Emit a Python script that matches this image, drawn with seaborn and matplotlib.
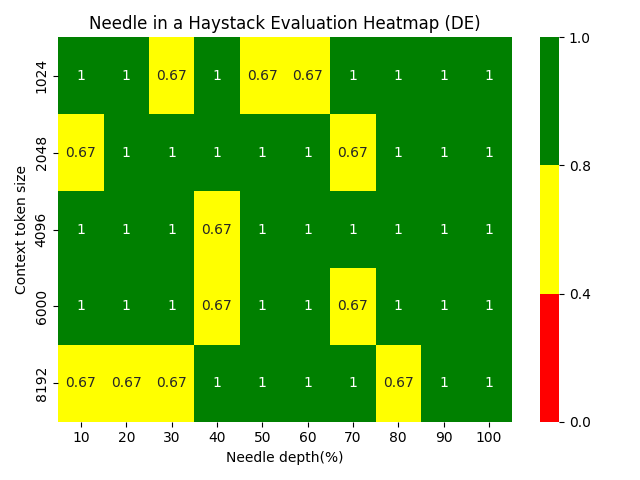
import numpy as np
import pandas as pd
import matplotlib
matplotlib.use('Agg')
import matplotlib.pyplot as plt
import seaborn as sns
from matplotlib.colors import ListedColormap, BoundaryNorm

depths = [10, 20, 30, 40, 50, 60, 70, 80, 90, 100]
context_sizes = [1024, 2048, 4096, 6000, 8192]

row_1024 = [1, 1, 0.67, 1, 0.67, 0.67, 1, 1, 1, 1]
row_2048 = [0.67, 1, 1, 1, 1, 1, 0.67, 1, 1, 1]
row_4096 = [1, 1, 1, 0.67, 1, 1, 1, 1, 1, 1]
row_6000 = [1, 1, 1, 0.67, 1, 1, 0.67, 1, 1, 1]
row_8192 = [0.67, 0.67, 0.67, 1, 1, 1, 1, 0.67, 1, 1]

df = pd.DataFrame([row_1024, row_2048, row_4096, row_6000, row_8192],
                  index=context_sizes, columns=depths)

cmap = ListedColormap(['red', 'yellow', 'green'])
norm = BoundaryNorm([0, 0.4, 0.8, 1.0], cmap.N)

fig, ax = plt.subplots(figsize=(6.4, 4.8), dpi=100)
sns.heatmap(df, annot=True, cmap=cmap, norm=norm, ax=ax,
            cbar_kws={'ticks': [0.0, 0.4, 0.8, 1.0]})

ax.set_title('Needle in a Haystack Evaluation Heatmap (DE)')
ax.set_xlabel('Needle depth(%)')
ax.set_ylabel('Context token size')

plt.tight_layout()
plt.savefig('out.png')
